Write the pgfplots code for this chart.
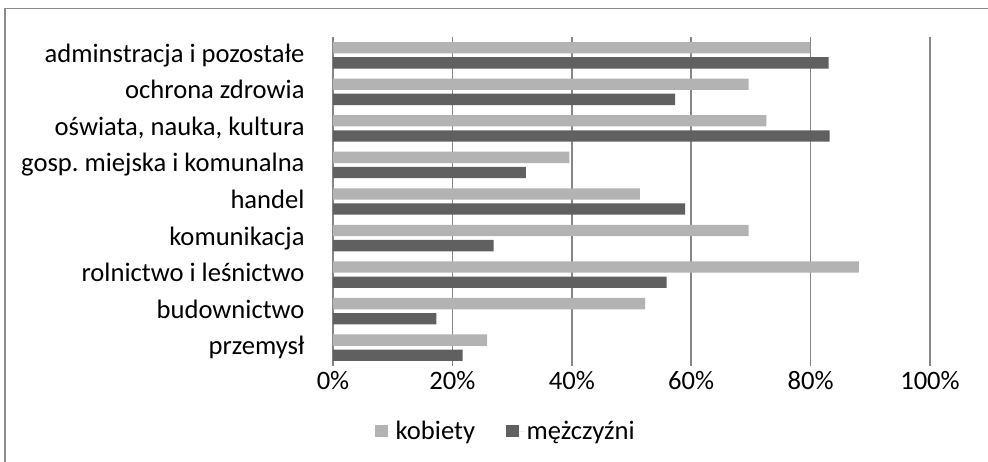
\documentclass[border=0pt]{standalone}
\usepackage{fontspec}
\setmainfont{Carlito}
\usepackage{pgfplots}
\pgfplotsset{compat=1.18}
\definecolor{kob}{HTML}{B3B3B3}
\definecolor{mez}{HTML}{606060}
\definecolor{gridc}{HTML}{868686}
\definecolor{framec}{HTML}{8C8C8C}
\begin{document}
\frenchspacing
\begin{tikzpicture}[x=1pt,y=1pt]
\useasboundingbox (0,0) rectangle (988,462);
\draw[framec, line width=1.3pt] (5,-2) -- (5,453.5) -- (992,453.5);
\begin{axis}[
  at={(333pt,96pt)}, anchor=south west,
  scale only axis, width=597pt, height=329pt,
  xbar, bar width=0.31,
  xmin=0, xmax=100, ymin=-0.5, ymax=8.5,
  xtick={0,20,40,60,80,100},
  xticklabels={0\%,20\%,40\%,60\%,80\%,100\%},
  ytick={0,1,2,3,4,5,6,7,8},
  yticklabels={przemysł,budownictwo,rolnictwo i leśnictwo,komunikacja,handel,gosp.\ miejska i komunalna,{oświata, nauka, kultura},ochrona zdrowia,adminstracja i pozostałe},
  axis y line*=left, axis x line*=bottom,
  x axis line style={draw=none},
  y axis line style={gridc, line width=1.5pt},
  tick style={draw=none},
  xmajorgrids, grid style={gridc, line width=1.5pt},
  tick label style={font=\fontsize{26.6}{31}\selectfont},
  yticklabel style={anchor=base east, inner sep=0pt, xshift=-24pt, yshift=-7pt},
  xticklabel style={anchor=base, inner sep=0pt, yshift=-24pt},
  legend style={draw=none, fill=none, legend columns=2, at={(0.0704,-0.1976)}, anchor=west,
    inner sep=0pt, font=\fontsize{26.6}{31}\selectfont,
    /tikz/every even column/.append style={column sep=29pt},
    nodes={inner sep=2pt}},
  legend cell align=left,
  legend image code/.code={\fill[#1] (0pt,-6pt) rectangle (12.5pt,6.5pt); \path (0pt,0pt) -- (18.5pt,0pt);},
]
\addplot[draw=none, fill=kob, bar shift=0.207] coordinates {
(25.8,0) (52.3,1) (88.1,2) (69.6,3) (51.4,4) (39.6,5) (72.6,6) (69.6,7) (79.9,8)};
\addplot[draw=none, fill=mez, bar shift=-0.207] coordinates {
(21.7,0) (17.3,1) (55.9,2) (26.9,3) (59.0,4) (32.3,5) (83.2,6) (57.3,7) (83.0,8)};
\legend{kobiety, mężczyźni}
\end{axis}
\end{tikzpicture}
\end{document}
